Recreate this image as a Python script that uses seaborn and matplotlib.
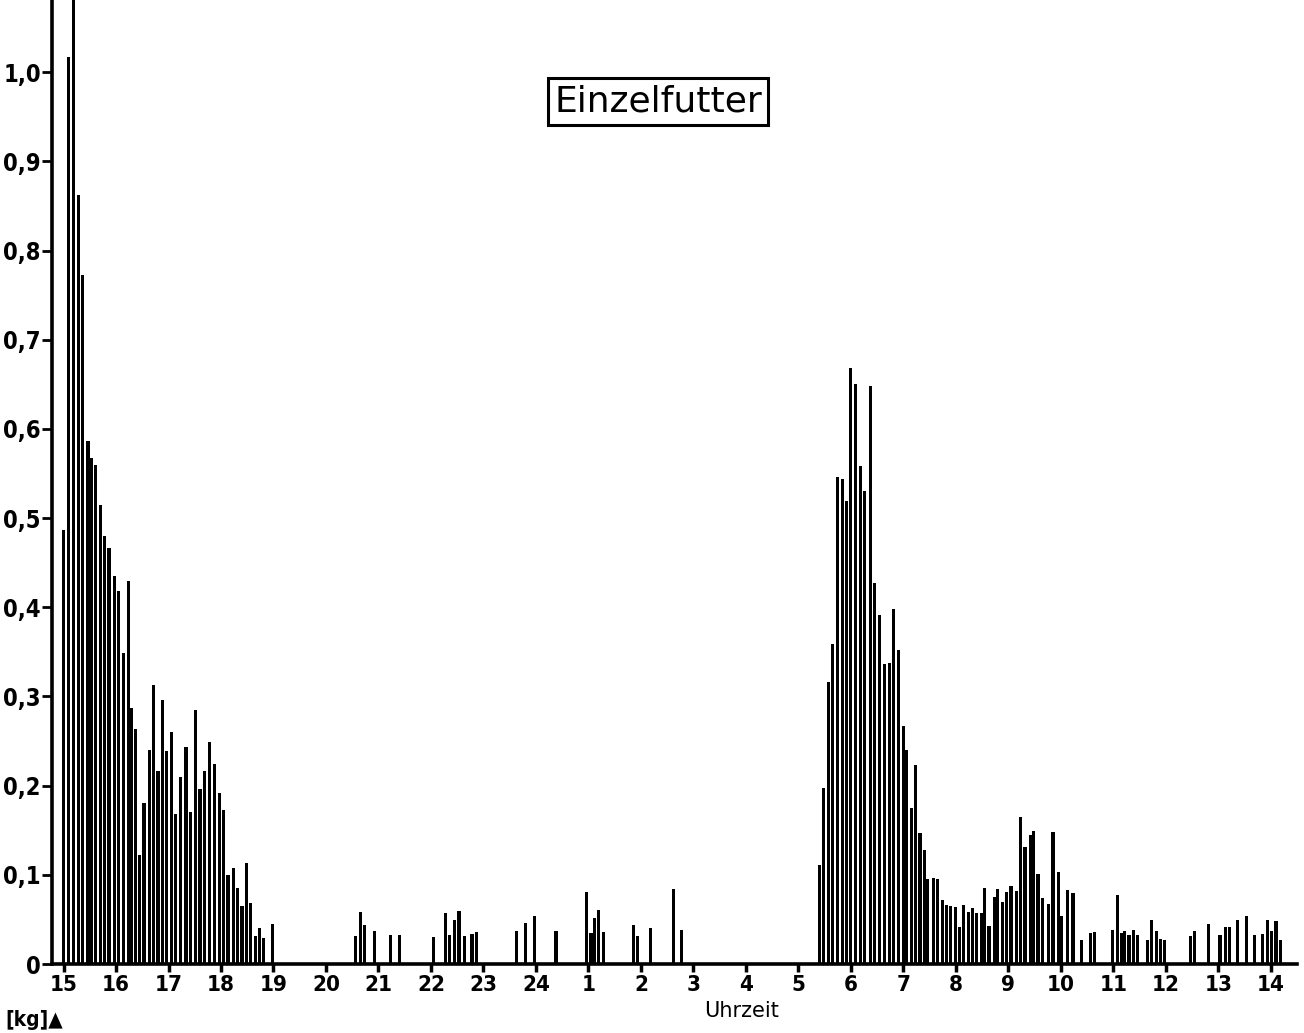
import numpy as np
import pandas as pd
import matplotlib.pyplot as plt
import seaborn as sns
from matplotlib import font_manager as fm

zeit_nachmittag = ["15:00", "15:06", "15:11", "15:17", "15:22", "15:28", "15:32", "15:37",
                   "15:42", "15:47", "15:52", "15:58", "16:03", "16:09", "16:14", "16:18",
                   "16:22", "16:27", "16:32", "16:38", "16:43", "16:48", "16:53", "16:58",
                   "17:03", "17:08", "17:14", "17:20", "17:25", "17:31", "17:36", "17:41",
                   "17:47", "17:53", "17:58", "18:03", "18:08", "18:14", "18:19", "18:24",
                   "18:29", "18:34", "18:39", "18:44", "18:49", "18:59"]
kg_nachmittag = [0.487, 1.017, 1.10, 0.862, 0.773, 0.587, 0.567, 0.560,
                 0.515, 0.480, 0.466, 0.435, 0.418, 0.349, 0.430, 0.287,
                 0.264, 0.122, 0.181, 0.240, 0.313, 0.216, 0.296, 0.239,
                 0.260, 0.168, 0.210, 0.243, 0.171, 0.285, 0.196, 0.216,
                 0.249, 0.224, 0.192, 0.173, 0.100, 0.108, 0.085, 0.065,
                 0.113, 0.068, 0.031, 0.040, 0.029, 0.045]

zeit_nacht = ["20:34", "20:39", "20:44", "20:55", "21:14", "21:24", "22:03", "22:17",
              "22:21", "22:27", "22:32", "22:38", "22:47", "22:52", "23:38", "23:48",
              "23:58", "0:23", "0:58", "1:03", "1:07", "1:12", "1:17", "1:52",
              "1:56", "2:11", "2:37", "2:46"]
kg_nacht = [0.031, 0.058, 0.044, 0.037, 0.032, 0.032, 0.030, 0.057,
            0.033, 0.049, 0.059, 0.031, 0.034, 0.036, 0.037, 0.046,
            0.054, 0.037, 0.081, 0.035, 0.052, 0.061, 0.036, 0.044,
            0.031, 0.040, 0.084, 0.038]

zeit_morgen = ["5:24", "5:29", "5:34", "5:39", "5:45", "5:50", "5:55", "6:00",
               "6:05", "6:11", "6:16", "6:22", "6:27", "6:33", "6:38", "6:44",
               "6:49", "6:54", "7:00", "7:04", "7:09", "7:14", "7:19", "7:24",
               "7:28", "7:34", "7:39", "7:45", "7:49", "7:54", "8:00", "8:04",
               "8:09", "8:14", "8:19", "8:24", "8:29", "8:33", "8:38", "8:44",
               "8:48", "8:53", "8:58", "9:03", "9:09", "9:14", "9:19", "9:25",
               "9:29", "9:34", "9:39", "9:46", "9:51", "9:57", "10:01", "10:08",
               "10:14"]
kg_morgen = [0.111, 0.197, 0.316, 0.359, 0.546, 0.544, 0.519, 0.668,
             0.650, 0.558, 0.530, 0.648, 0.427, 0.391, 0.336, 0.337,
             0.398, 0.352, 0.267, 0.240, 0.175, 0.223, 0.147, 0.128,
             0.095, 0.096, 0.095, 0.072, 0.066, 0.065, 0.064, 0.042,
             0.066, 0.058, 0.063, 0.057, 0.057, 0.085, 0.043, 0.075,
             0.084, 0.069, 0.081, 0.088, 0.082, 0.165, 0.131, 0.145,
             0.149, 0.101, 0.074, 0.067, 0.148, 0.103, 0.054, 0.083,
             0.080]

zeit_mittag = ["10:24", "10:34", "10:39", "10:59", "11:05", "11:09", "11:13", "11:18",
               "11:23", "11:28", "11:39", "11:44", "11:49", "11:54", "11:59", "12:28",
               "12:33", "12:49", "13:02", "13:08", "13:13", "13:22", "13:32", "13:41",
               "13:51", "13:56", "14:01", "14:06", "14:11"]
kg_mittag = [0.027, 0.035, 0.036, 0.038, 0.077, 0.035, 0.037, 0.032,
             0.038, 0.033, 0.027, 0.049, 0.037, 0.028, 0.027, 0.031,
             0.037, 0.045, 0.033, 0.042, 0.041, 0.049, 0.054, 0.032,
             0.034, 0.049, 0.037, 0.048, 0.027]

stunden = [15, 16, 17, 18, 19, 20, 21, 22, 23, 24, 1, 2, 3, 4, 5, 6, 7, 8, 9, 10, 11, 12, 13, 14]
y_ticks = [0, 0.1, 0.2, 0.3, 0.4, 0.5, 0.6, 0.7, 0.8, 0.9, 1.0]
y_labels = ["0", "0,1", "0,2", "0,3", "0,4", "0,5", "0,6", "0,7", "0,8", "0,9", "1,0"]


def ab_15_uhr(t):
    h, m = t.split(":")
    return (int(h) - 15) % 24 + int(m) / 60


zeiten = zeit_nachmittag + zeit_nacht + zeit_morgen + zeit_mittag
df = pd.DataFrame({"t": [ab_15_uhr(z) for z in zeiten],
                   "kg": kg_nachmittag + kg_nacht + kg_morgen + kg_mittag})

sns.set_style("ticks")
plt.rcParams["text.color"] = "black"

# schmale Schrift fuer die Achsenbeschriftung, falls vorhanden
schmal = fm.FontProperties(family="DejaVu Sans", stretch="condensed", weight="bold")
ist_schmal = "Condensed" in fm.findfont(schmal)
gr_y, gr_x = (17, 16) if ist_schmal else (15, 14.5)

fig = plt.figure(figsize=(13.04, 10.33), dpi=100)
ax = fig.add_axes([52 / 1304, 1 - 964 / 1033, 1245 / 1304, 964 / 1033])

# Balkenbreite ca. 3 px -> in Stunden, relativ zum kleinsten Abstand (native_scale)
min_abstand = np.diff(np.sort(df["t"].unique())).min()
sns.barplot(data=df, x="t", y="kg", native_scale=True, width=0.06 / min_abstand,
            color="black", saturation=1, errorbar=None, linewidth=0, ax=ax)

ax.set_xlim(-0.22, 23.5)
ax.set_ylim(0, 1.081)
ax.set_xticks(range(len(stunden)))
ax.set_xticklabels([str(s) for s in stunden], fontsize=gr_x, fontweight="bold",
                   family="DejaVu Sans", fontstretch="condensed")
ax.set_yticks(y_ticks)
ax.set_yticklabels(y_labels, fontsize=gr_y, fontweight="bold",
                   family="DejaVu Sans", fontstretch="condensed")
ax.tick_params(axis="x", length=6, width=2.5, pad=2, colors="black")
ax.tick_params(axis="y", length=7, width=2, pad=1, colors="black")
sns.despine(ax=ax)
for s in ["left", "bottom"]:
    ax.spines[s].set_linewidth(2.6)
    ax.spines[s].set_color("black")

ax.set_xlabel("Uhrzeit", fontsize=15, family="DejaVu Sans", color="black", labelpad=0)
ax.xaxis.set_label_coords((742 - 52) / 1245, -0.038)
ax.set_ylabel("")

fig.text(5 / 1304, 1 - 1010 / 1033, "[kg]\u25b2", fontsize=15, fontweight="bold",
         family="DejaVu Sans", fontstretch="condensed", va="top", ha="left")
fig.text(658 / 1304, 1 - 101 / 1033, "Einzelfutter", fontsize=26, family="DejaVu Sans",
         ha="center", va="center",
         bbox=dict(boxstyle="square,pad=0.18", fc="white", ec="black", lw=2.2))

fig.savefig("out.png", dpi=100)
